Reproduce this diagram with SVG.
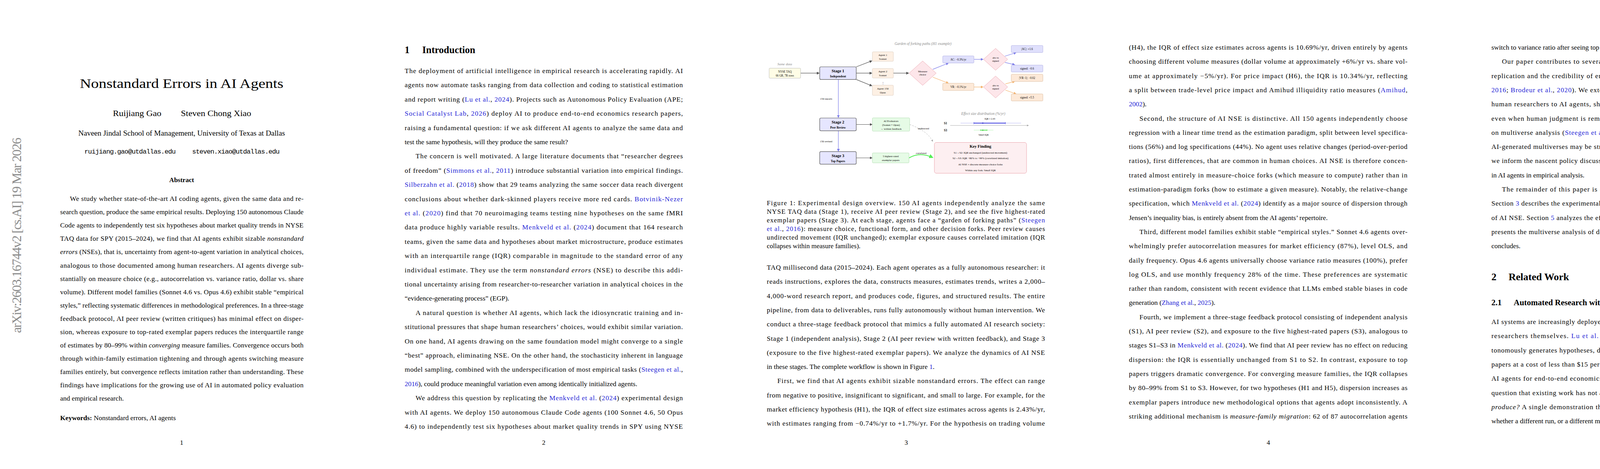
<svg xmlns="http://www.w3.org/2000/svg" width="4635" height="1200" viewBox="0 0 4635 1200">
<style>
.b{font-family:"Liberation Serif","DejaVu Serif",serif;font-size:17.5px;fill:#000}
.l{fill:#1f1fd6}
.i{font-style:italic}
.pn{font-family:"Liberation Serif",serif;font-size:17px;text-anchor:middle}
.f{font-family:"Liberation Serif",serif;text-anchor:middle;fill:#000}
.g{fill:#8a8a8a;font-style:italic}
.box{stroke:#b0b0b0;stroke-width:0.8}
.stg{fill:#e6e6ff;stroke:#555;stroke-width:1.2}
.ag{fill:#fdf0e4;stroke:#d8c8b8;stroke-width:0.8}
.lav{fill:#e0e0fc;stroke:#a8a8e0;stroke-width:0.8}
.pch{fill:#fde9d8;stroke:#d8b898;stroke-width:0.8}
.dia{fill:#fde6ea;stroke:#e89aa4;stroke-width:0.8}
.grn{fill:#e6fbe6;stroke:#a8d8a8;stroke-width:0.8}
.ad{stroke:#555;stroke-width:1.2;fill:none;marker-end:url(#md)}
.ab{stroke:#7b7bea;stroke-width:1.2;fill:none;marker-end:url(#mb)}
.ao{stroke:#f5b26b;stroke-width:1.2;fill:none;marker-end:url(#mo)}
</style>
<defs>
<marker id="md" markerWidth="6" markerHeight="6" refX="5" refY="3" orient="auto"><path d="M0,0 L6,3 L0,6 z" fill="#555"/></marker>
<marker id="mb" markerWidth="6" markerHeight="6" refX="5" refY="3" orient="auto"><path d="M0,0 L6,3 L0,6 z" fill="#7b7bea"/></marker>
<marker id="mo" markerWidth="6" markerHeight="6" refX="5" refY="3" orient="auto"><path d="M0,0 L6,3 L0,6 z" fill="#f5b26b"/></marker>
<marker id="mg" markerWidth="5" markerHeight="5" refX="4" refY="2.5" orient="auto"><path d="M0,0 L5,2.5 L0,5 z" fill="#55ee55"/></marker>
<marker id="mx" markerWidth="6" markerHeight="6" refX="5" refY="3" orient="auto"><path d="M0,0 L6,3 L0,6 z" fill="#aaa"/></marker>
</defs>
<rect width="4635" height="1200" fill="#fff"/>

<!-- Page 1 -->
<g id="page1">
<text x="42" y="590" font-family="Liberation Serif,serif" font-size="34" fill="#8c8c8c" text-anchor="middle" transform="rotate(-90 54 590)" textLength="500" lengthAdjust="spacing">arXiv:2603.16744v2  [cs.AI]  19 Mar 2026</text>
<text x="465" y="225" font-family="Liberation Serif,serif" font-size="34" text-anchor="middle" textLength="521" lengthAdjust="spacingAndGlyphs">Nonstandard Errors in AI Agents</text>
<text x="289" y="297" font-family="Liberation Serif,serif" font-size="21" textLength="124" lengthAdjust="spacingAndGlyphs">Ruijiang Gao</text>
<text x="463" y="297" font-family="Liberation Serif,serif" font-size="21" textLength="180" lengthAdjust="spacingAndGlyphs">Steven Chong Xiao</text>
<text x="465" y="347" font-family="Liberation Serif,serif" font-size="18.5" text-anchor="middle" textLength="529" lengthAdjust="spacingAndGlyphs">Naveen Jindal School of Management, University of Texas at Dallas</text>
<text x="216" y="393" font-family="Liberation Mono,monospace" font-size="17" textLength="234" lengthAdjust="spacing">ruijiang.gao@utdallas.edu</text>
<text x="492" y="393" font-family="Liberation Mono,monospace" font-size="17" textLength="224" lengthAdjust="spacing">steven.xiao@utdallas.edu</text>
<text x="465" y="466" font-family="Liberation Serif,serif" font-size="17" font-weight="bold" text-anchor="middle">Abstract</text>
<g class="b">
<text x="179" y="514" textLength="598" lengthAdjust="spacing">We study whether state-of-the-art AI coding agents, given the same data and re-</text>
<text x="154" y="548" textLength="623" lengthAdjust="spacing">search question, produce the same empirical results. Deploying 150 autonomous Claude</text>
<text x="154" y="582" textLength="623" lengthAdjust="spacing">Code agents to independently test six hypotheses about market quality trends in NYSE</text>
<text x="154" y="616" textLength="623" lengthAdjust="spacing">TAQ data for SPY (2015–2024), we find that AI agents exhibit sizable <tspan class="i">nonstandard</tspan></text>
<text x="154" y="650" textLength="623" lengthAdjust="spacing"><tspan class="i">errors</tspan> (NSEs), that is, uncertainty from agent-to-agent variation in analytical choices,</text>
<text x="154" y="685" textLength="623" lengthAdjust="spacing">analogous to those documented among human researchers. AI agents diverge sub-</text>
<text x="154" y="719" textLength="623" lengthAdjust="spacing">stantially on measure choice (e.g., autocorrelation vs. variance ratio, dollar vs. share</text>
<text x="154" y="753" textLength="623" lengthAdjust="spacing">volume). Different model families (Sonnet 4.6 vs. Opus 4.6) exhibit stable “empirical</text>
<text x="154" y="787" textLength="623" lengthAdjust="spacing">styles,” reflecting systematic differences in methodological preferences. In a three-stage</text>
<text x="154" y="821" textLength="623" lengthAdjust="spacing">feedback protocol, AI peer review (written critiques) has minimal effect on disper-</text>
<text x="154" y="855" textLength="623" lengthAdjust="spacing">sion, whereas exposure to top-rated exemplar papers reduces the interquartile range</text>
<text x="154" y="889" textLength="623" lengthAdjust="spacing">of estimates by 80–99% within <tspan class="i">converging</tspan> measure families. Convergence occurs both</text>
<text x="154" y="923" textLength="623" lengthAdjust="spacing">through within-family estimation tightening and through agents switching measure</text>
<text x="154" y="957" textLength="623" lengthAdjust="spacing">families entirely, but convergence reflects imitation rather than understanding. These</text>
<text x="154" y="991" textLength="623" lengthAdjust="spacing">findings have implications for the growing use of AI in automated policy evaluation</text>
<text x="154" y="1025">and empirical research.</text>
<text x="154" y="1075"><tspan font-weight="bold">Keywords:</tspan> Nonstandard errors, AI agents</text>
</g>
<text x="465" y="1138" class="pn">1</text>
</g>

<!-- Page 2 -->
<g id="page2" class="b">
<text x="1036" y="136" font-size="25" font-weight="bold">1</text>
<text x="1081" y="136" font-size="25" font-weight="bold">Introduction</text>
<text x="1036" y="187" textLength="712" lengthAdjust="spacing">The deployment of artificial intelligence in empirical research is accelerating rapidly. AI</text>
<text x="1036" y="223.4" textLength="712" lengthAdjust="spacing">agents now automate tasks ranging from data collection and coding to statistical estimation</text>
<text x="1036" y="259.8" textLength="712" lengthAdjust="spacing">and report writing (<tspan class="l">Lu et al.</tspan>, <tspan class="l">2024</tspan>). Projects such as Autonomous Policy Evaluation (APE;</text>
<text x="1036" y="296.2" textLength="712" lengthAdjust="spacing"><tspan class="l">Social Catalyst Lab</tspan>, <tspan class="l">2026</tspan>) deploy AI to produce end-to-end economics research papers,</text>
<text x="1036" y="332.6" textLength="712" lengthAdjust="spacing">raising a fundamental question: if we ask different AI agents to analyze the same data and</text>
<text x="1036" y="369">test the same hypothesis, will they produce the same result?</text>
<text x="1064" y="405.4" textLength="684" lengthAdjust="spacing">The concern is well motivated. A large literature documents that “researcher degrees</text>
<text x="1036" y="441.8" textLength="712" lengthAdjust="spacing">of freedom” (<tspan class="l">Simmons et al.</tspan>, <tspan class="l">2011</tspan>) introduce substantial variation into empirical findings.</text>
<text x="1036" y="478.2" textLength="712" lengthAdjust="spacing"><tspan class="l">Silberzahn et al.</tspan> (<tspan class="l">2018</tspan>) show that 29 teams analyzing the same soccer data reach divergent</text>
<text x="1036" y="514.6" textLength="712" lengthAdjust="spacing">conclusions about whether dark-skinned players receive more red cards. <tspan class="l">Botvinik-Nezer</tspan></text>
<text x="1036" y="551" textLength="712" lengthAdjust="spacing"><tspan class="l">et al.</tspan> (<tspan class="l">2020</tspan>) find that 70 neuroimaging teams testing nine hypotheses on the same fMRI</text>
<text x="1036" y="587.4" textLength="712" lengthAdjust="spacing">data produce highly variable results. <tspan class="l">Menkveld et al.</tspan> (<tspan class="l">2024</tspan>) document that 164 research</text>
<text x="1036" y="623.8" textLength="712" lengthAdjust="spacing">teams, given the same data and hypotheses about market microstructure, produce estimates</text>
<text x="1036" y="660.2" textLength="712" lengthAdjust="spacing">with an interquartile range (IQR) comparable in magnitude to the standard error of any</text>
<text x="1036" y="696.6" textLength="712" lengthAdjust="spacing">individual estimate. They use the term <tspan class="i">nonstandard errors</tspan> (NSE) to describe this addi-</text>
<text x="1036" y="733" textLength="712" lengthAdjust="spacing">tional uncertainty arising from researcher-to-researcher variation in analytical choices in the</text>
<text x="1036" y="769.4">“evidence-generating process” (EGP).</text>
<text x="1064" y="805.8" textLength="684" lengthAdjust="spacing">A natural question is whether AI agents, which lack the idiosyncratic training and in-</text>
<text x="1036" y="842.2" textLength="712" lengthAdjust="spacing">stitutional pressures that shape human researchers’ choices, would exhibit similar variation.</text>
<text x="1036" y="878.6" textLength="712" lengthAdjust="spacing">On one hand, AI agents drawing on the same foundation model might converge to a single</text>
<text x="1036" y="915" textLength="712" lengthAdjust="spacing">“best” approach, eliminating NSE. On the other hand, the stochasticity inherent in language</text>
<text x="1036" y="951.4" textLength="712" lengthAdjust="spacing">model sampling, combined with the underspecification of most empirical tasks (<tspan class="l">Steegen et al.</tspan>,</text>
<text x="1036" y="987.8"><tspan class="l">2016</tspan>), could produce meaningful variation even among identically initialized agents.</text>
<text x="1064" y="1024.2" textLength="684" lengthAdjust="spacing">We address this question by replicating the <tspan class="l">Menkveld et al.</tspan> (<tspan class="l">2024</tspan>) experimental design</text>
<text x="1036" y="1060.6" textLength="712" lengthAdjust="spacing">with AI agents. We deploy 150 autonomous Claude Code agents (100 Sonnet 4.6, 50 Opus</text>
<text x="1036" y="1097" textLength="712" lengthAdjust="spacing">4.6) to independently test six hypotheses about market quality trends in SPY using NYSE</text>
<text x="1392" y="1138" class="pn">2</text>
</g>

<!-- Page 3 figure -->
<g id="fig1">
<g id="connectors">
<line class="ad" x1="2049.6" y1="187.2" x2="2097" y2="187.2"/>
<line class="ad" x1="2192" y1="171" x2="2232" y2="155.6"/>
<line class="ad" x1="2192" y1="187.2" x2="2232" y2="187.2"/>
<line class="ad" x1="2192" y1="203.4" x2="2232" y2="219.6"/>
<line class="ad" x1="2287" y1="187.2" x2="2326" y2="187.2"/>
<line class="ab" x1="2388" y1="177.4" x2="2427.7" y2="161.5"/>
<line class="ao" x1="2388" y1="197.5" x2="2427.7" y2="212.8"/>
<line class="ab" x1="2493.3" y1="151.8" x2="2516.5" y2="151.8"/>
<line class="ao" x1="2493.3" y1="222.6" x2="2516.5" y2="222.6"/>
<line class="ab" x1="2572.6" y1="143.8" x2="2601" y2="134.7"/>
<line class="ab" x1="2572.6" y1="159.7" x2="2597.6" y2="165.6"/>
<line class="ao" x1="2573.8" y1="214.6" x2="2597.6" y2="208.4"/>
<line class="ao" x1="2573.8" y1="230.5" x2="2601" y2="240.3"/>
<line class="ab" x1="2146.2" y1="203.4" x2="2146.2" y2="300.5"/>
<line class="ab" x1="2146.2" y1="334.7" x2="2146.2" y2="387"/>
<line class="ad" x1="2192" y1="318.5" x2="2232.5" y2="318.5"/>
<line class="ad" x1="2192" y1="404" x2="2232.5" y2="404"/>
<path d="M2328.7,318.5 Q2375,335 2387.7,362" stroke="#aaa" stroke-width="0.9" stroke-dasharray="4,3" fill="none" marker-end="url(#mx)"/>
<path d="M2327,404 Q2355,388 2387.5,403" stroke="#55ee55" stroke-width="2.2" fill="none" marker-end="url(#mg)"/>
</g>
<text x="2363" y="115" class="f g" font-size="9.5">Garden of forking paths (H1 example)</text>
<text x="2009" y="167" class="f g" font-size="9">Same data</text>
<g id="nyse"><rect x="1969" y="174.5" width="80.6" height="25.5" rx="2" fill="#fffde6" class="box"/>
<text x="2009.3" y="185.5" class="f" font-size="7.2">NYSE TAQ</text><text x="2009.3" y="195.5" class="f" font-size="7.2">66 GB, 7B rows</text></g>
<g id="stage1"><rect x="2098.5" y="171" width="93.5" height="32.4" rx="3" class="stg"/>
<text x="2145.2" y="185" class="f" font-size="10.5" font-weight="bold">Stage 1</text><text x="2145.2" y="197.5" class="f" font-size="7.6" font-weight="bold">Independent</text></g>
<g id="agent1"><rect x="2233.3" y="132.6" width="53.7" height="24.2" rx="2" class="ag"/>
<text x="2260" y="142.5" class="f" font-size="7">Agent 1</text><text x="2260" y="152.5" class="f" font-size="7">Sonnet</text></g>
<g id="agent2"><rect x="2233.3" y="175.4" width="53.7" height="24.2" rx="2" class="ag"/>
<text x="2260" y="185.3" class="f" font-size="7">Agent 2</text><text x="2260" y="195.3" class="f" font-size="7">Sonnet</text></g>
<text x="2260" y="215" class="f" font-size="7" fill="#aaa">⋮</text>
<g id="agent150"><rect x="2233.3" y="218" width="53.7" height="26" rx="2" class="ag"/>
<text x="2260" y="228.5" class="f" font-size="7">Agent 150</text><text x="2260" y="238.8" class="f" font-size="7">Opus</text></g>
<g id="measure"><polygon points="2362,156 2396.6,187.2 2362,218.4 2327.4,187.2" class="dia"/>
<text x="2362" y="185" class="f" font-size="6.8">Measure</text><text x="2362" y="193.2" class="f" font-size="6.8">choice</text></g>
<g id="ac"><rect x="2413.4" y="143" width="79.9" height="18.2" rx="2" class="lav"/><text x="2453.3" y="154.8" class="f" font-size="7.2">AC: −0.3%/yr</text></g>
<g id="vr"><rect x="2413.4" y="213" width="79.9" height="18.4" rx="2" class="pch"/><text x="2453.3" y="224.8" class="f" font-size="7.2">VR: −0.1%/yr</text></g>
<g id="absac"><polygon points="2548.7,123.8 2579.7,151.8 2548.7,179.8 2517.7,151.8" class="dia"/>
<text x="2548.7" y="150" class="f" font-size="6.5">abs vs</text><text x="2548.7" y="158" class="f" font-size="6.5">signed</text></g>
<g id="absvr"><polygon points="2548.7,194.6 2579.7,222.6 2548.7,250.6 2517.7,222.6" class="dia"/>
<text x="2548.7" y="220.8" class="f" font-size="6.5">abs vs</text><text x="2548.7" y="228.8" class="f" font-size="6.5">signed</text></g>
<g id="acabs"><rect x="2588.8" y="116.4" width="81" height="18" rx="2" class="lav"/><text x="2629.3" y="128" class="f" font-size="7.2">|AC|: +1.6</text></g>
<g id="acsig"><rect x="2588.8" y="166.5" width="81" height="17.7" rx="2" class="lav"/><text x="2629.3" y="177.9" class="f" font-size="7.2">signed: −0.6</text></g>
<g id="vrabs"><rect x="2588.8" y="190" width="81" height="18.4" rx="2" class="pch"/><text x="2629.3" y="201.8" class="f" font-size="7.2">|VR−1|: −0.02</text></g>
<g id="vrsig"><rect x="2588.8" y="240.3" width="81" height="18" rx="2" class="pch"/><text x="2629.3" y="251.9" class="f" font-size="7.2">signed: +5.5</text></g>
<text x="2115" y="254.5" class="f" font-size="6.8" fill="#8888ee">150 reports</text>
<text x="2115" y="363.5" class="f" font-size="6.8" fill="#8888ee">150 revised</text>
<g id="stage2"><rect x="2098.5" y="302" width="93.5" height="32.7" rx="3" class="stg"/>
<text x="2145.2" y="316" class="f" font-size="10.5" font-weight="bold">Stage 2</text><text x="2145.2" y="328.8" class="f" font-size="7.6" font-weight="bold">Peer Review</text></g>
<g id="stage3"><rect x="2098.5" y="387.8" width="93.5" height="32.4" rx="3" class="stg"/>
<text x="2145.2" y="401.8" class="f" font-size="10.5" font-weight="bold">Stage 3</text><text x="2145.2" y="414.5" class="f" font-size="7.6" font-weight="bold">Top Papers</text></g>
<g id="evaluators"><rect x="2233.3" y="301.6" width="95.4" height="34" rx="2" class="grn"/>
<text x="2281" y="311.5" class="f" font-size="6.8">AI Evaluators</text><text x="2281" y="321.6" class="f" font-size="6.8">(Sonnet + Opus)</text><text x="2281" y="331.6" class="f" font-size="6.8">→ written feedback</text></g>
<g id="exemplars"><rect x="2233.3" y="391.3" width="93.7" height="25.4" rx="2" class="grn"/>
<text x="2280.2" y="402" class="f" font-size="6.8">5 highest-rated</text><text x="2280.2" y="412.3" class="f" font-size="6.8">exemplar papers</text></g>
<text x="2364" y="331" class="f" font-size="6.8" fill="#999">undirected</text>
<text x="2358" y="394" class="f" font-size="6.8" fill="#999">correlated</text>
<g id="keyfinding"><rect x="2392" y="364.5" width="236" height="78.8" rx="5" fill="#fdeff1" stroke="#e89aa4" stroke-width="0.9"/>
<text x="2510" y="378" class="f" font-size="10.5" font-weight="bold">Key Finding</text>
<text x="2510" y="392.5" class="f" font-size="7">S1→S2: IQR unchanged (undirected movement)</text>
<text x="2510" y="406.5" class="f" font-size="7">S2→S3: IQR −80% to −99% (correlated imitation)</text>
<text x="2510" y="422.5" class="f" font-size="7">AI NSE = discrete measure-choice forks</text>
<text x="2510" y="437.5" class="f" font-size="7">Within any fork: Small IQR</text></g>
<g id="effect">
<text x="2517" y="294" class="f g" font-size="9.5">Effect size distribution (%/yr)</text>
<text x="2534" y="306" class="f" font-size="6" fill="#e06070">IQR = 2.43</text>
<text x="2420.5" y="318" class="f" font-size="7.5" font-weight="bold">S1</text>
<text x="2420.5" y="335.5" class="f" font-size="7.5" font-weight="bold">S3</text>
<line x1="2432.5" y1="321" x2="2633" y2="321" stroke="#999" stroke-width="0.8" marker-end="url(#mx)"/>
<line x1="2459" y1="315" x2="2614" y2="315" stroke="#b8b8f4" stroke-width="1"/>
<line x1="2493" y1="315" x2="2574" y2="315" stroke="#4040e0" stroke-width="1.8"/>
<line x1="2493" y1="312" x2="2493" y2="318" stroke="#4040e0" stroke-width="0.8"/>
<line x1="2574" y1="312" x2="2574" y2="318" stroke="#4040e0" stroke-width="0.8"/>
<circle cx="2516" cy="315" r="1.8" fill="#3030d0"/>
<line x1="2493" y1="333" x2="2543" y2="333" stroke="#b8f4b8" stroke-width="1"/>
<line x1="2510" y1="333" x2="2527" y2="333" stroke="#40e040" stroke-width="1.6"/>
<line x1="2510" y1="331" x2="2510" y2="335" stroke="#40e040" stroke-width="0.7"/>
<line x1="2527" y1="331" x2="2527" y2="335" stroke="#40e040" stroke-width="0.7"/>
<circle cx="2516" cy="333" r="1.6" fill="#30c030"/>
<text x="2518" y="347" class="f" font-size="6" fill="#e06070">Small IQR</text>
</g>
</g>

<!-- Page 3 text -->
<g id="page3" class="b">
<text x="1963" y="525" font-size="17" textLength="712" lengthAdjust="spacing">Figure 1: Experimental design overview. 150 AI agents independently analyze the same</text>
<text x="1963" y="547" font-size="17" textLength="712" lengthAdjust="spacing">NYSE TAQ data (Stage 1), receive AI peer review (Stage 2), and see the five highest-rated</text>
<text x="1963" y="569" font-size="17" textLength="712" lengthAdjust="spacing">exemplar papers (Stage 3). At each stage, agents face a “garden of forking paths” (<tspan class="l">Steegen</tspan></text>
<text x="1963" y="591" font-size="17" textLength="712" lengthAdjust="spacing"><tspan class="l">et al.</tspan>, <tspan class="l">2016</tspan>): measure choice, functional form, and other decision forks. Peer review causes</text>
<text x="1963" y="613" font-size="17" textLength="712" lengthAdjust="spacing">undirected movement (IQR unchanged); exemplar exposure causes correlated imitation (IQR</text>
<text x="1963" y="635" font-size="17">collapses within measure families).</text>
<text x="1963" y="690" textLength="712" lengthAdjust="spacing">TAQ millisecond data (2015–2024). Each agent operates as a fully autonomous researcher: it</text>
<text x="1963" y="726.3" textLength="712" lengthAdjust="spacing">reads instructions, explores the data, constructs measures, estimates trends, writes a 2,000–</text>
<text x="1963" y="762.6" textLength="712" lengthAdjust="spacing">4,000-word research report, and produces code, figures, and structured results. The entire</text>
<text x="1963" y="798.9" textLength="712" lengthAdjust="spacing">pipeline, from data to deliverables, runs fully autonomously without human intervention. We</text>
<text x="1963" y="835.2" textLength="712" lengthAdjust="spacing">conduct a three-stage feedback protocol that mimics a fully automated AI research society:</text>
<text x="1963" y="871.5" textLength="712" lengthAdjust="spacing">Stage 1 (independent analysis), Stage 2 (AI peer review with written feedback), and Stage 3</text>
<text x="1963" y="907.8" textLength="712" lengthAdjust="spacing">(exposure to the five highest-rated exemplar papers). We analyze the dynamics of AI NSE</text>
<text x="1963" y="944.1">in these stages. The complete workflow is shown in Figure <tspan class="l">1</tspan>.</text>
<text x="1990" y="980.4" textLength="685" lengthAdjust="spacing">First, we find that AI agents exhibit sizable nonstandard errors. The effect can range</text>
<text x="1963" y="1016.7" textLength="712" lengthAdjust="spacing">from negative to positive, insignificant to significant, and small to large. For example, for the</text>
<text x="1963" y="1053" textLength="712" lengthAdjust="spacing">market efficiency hypothesis (H1), the IQR of effect size estimates across agents is 2.43%/yr,</text>
<text x="1963" y="1089.3" textLength="712" lengthAdjust="spacing">with estimates ranging from −0.74%/yr to +1.7%/yr. For the hypothesis on trading volume</text>
<text x="2320" y="1138" class="pn">3</text>
</g>

<!-- Page 4 -->
<g id="page4" class="b">
<text x="2890" y="127" textLength="713" lengthAdjust="spacing">(H4), the IQR of effect size estimates across agents is 10.69%/yr, driven entirely by agents</text>
<text x="2890" y="163.3" textLength="713" lengthAdjust="spacing">choosing different volume measures (dollar volume at approximately +6%/yr vs. share vol-</text>
<text x="2890" y="199.6" textLength="713" lengthAdjust="spacing">ume at approximately −5%/yr). For price impact (H6), the IQR is 10.34%/yr, reflecting</text>
<text x="2890" y="235.9" textLength="713" lengthAdjust="spacing">a split between trade-level price impact and Amihud illiquidity ratio measures (<tspan class="l">Amihud</tspan>,</text>
<text x="2890" y="272.2"><tspan class="l">2002</tspan>).</text>
<text x="2917" y="308.5" textLength="686" lengthAdjust="spacing">Second, the structure of AI NSE is distinctive. All 150 agents independently choose</text>
<text x="2890" y="344.8" textLength="713" lengthAdjust="spacing">regression with a linear time trend as the estimation paradigm, split between level specifica-</text>
<text x="2890" y="381.1" textLength="713" lengthAdjust="spacing">tions (56%) and log specifications (44%). No agent uses relative changes (period-over-period</text>
<text x="2890" y="417.4" textLength="713" lengthAdjust="spacing">ratios), first differences, that are common in human choices. AI NSE is therefore concen-</text>
<text x="2890" y="453.7" textLength="713" lengthAdjust="spacing">trated almost entirely in measure-choice forks (which measure to compute) rather than in</text>
<text x="2890" y="490" textLength="713" lengthAdjust="spacing">estimation-paradigm forks (how to estimate a given measure). Notably, the relative-change</text>
<text x="2890" y="526.3" textLength="713" lengthAdjust="spacing">specification, which <tspan class="l">Menkveld et al.</tspan> (<tspan class="l">2024</tspan>) identify as a major source of dispersion through</text>
<text x="2890" y="562.6">Jensen’s inequality bias, is entirely absent from the AI agents’ repertoire.</text>
<text x="2917" y="598.9" textLength="686" lengthAdjust="spacing">Third, different model families exhibit stable “empirical styles.” Sonnet 4.6 agents over-</text>
<text x="2890" y="635.2" textLength="713" lengthAdjust="spacing">whelmingly prefer autocorrelation measures for market efficiency (87%), level OLS, and</text>
<text x="2890" y="671.5" textLength="713" lengthAdjust="spacing">daily frequency. Opus 4.6 agents universally choose variance ratio measures (100%), prefer</text>
<text x="2890" y="707.8" textLength="713" lengthAdjust="spacing">log OLS, and use monthly frequency 28% of the time. These preferences are systematic</text>
<text x="2890" y="744.1" textLength="713" lengthAdjust="spacing">rather than random, consistent with recent evidence that LLMs embed stable biases in code</text>
<text x="2890" y="780.4">generation (<tspan class="l">Zhang et al.</tspan>, <tspan class="l">2025</tspan>).</text>
<text x="2917" y="816.7" textLength="686" lengthAdjust="spacing">Fourth, we implement a three-stage feedback protocol consisting of independent analysis</text>
<text x="2890" y="853" textLength="713" lengthAdjust="spacing">(S1), AI peer review (S2), and exposure to the five highest-rated papers (S3), analogous to</text>
<text x="2890" y="889.3" textLength="713" lengthAdjust="spacing">stages S1–S3 in <tspan class="l">Menkveld et al.</tspan> (<tspan class="l">2024</tspan>). We find that AI peer review has no effect on reducing</text>
<text x="2890" y="925.6" textLength="713" lengthAdjust="spacing">dispersion: the IQR is essentially unchanged from S1 to S2. In contrast, exposure to top</text>
<text x="2890" y="961.9" textLength="713" lengthAdjust="spacing">papers triggers dramatic convergence. For converging measure families, the IQR collapses</text>
<text x="2890" y="998.2" textLength="713" lengthAdjust="spacing">by 80–99% from S1 to S3. However, for two hypotheses (H1 and H5), dispersion increases as</text>
<text x="2890" y="1034.5" textLength="713" lengthAdjust="spacing">exemplar papers introduce new methodological options that agents adopt inconsistently. A</text>
<text x="2890" y="1070.8" textLength="713" lengthAdjust="spacing">striking additional mechanism is <tspan class="i">measure-family migration</tspan>: 62 of 87 autocorrelation agents</text>
<text x="3247" y="1138" class="pn">4</text>
</g>

<!-- Page 5 -->
<g id="page5" class="b">
<text x="3818" y="127">switch to variance ratio after seeing top papers that use variance ratio measures.</text>
<text x="3845" y="163.3" textLength="685" lengthAdjust="spacing">Our paper contributes to several literatures. We add to the growing body of work on</text>
<text x="3818" y="199.6" textLength="712" lengthAdjust="spacing">replication and the credibility of empirical research (<tspan class="l">Simmons et al.</tspan>, <tspan class="l">2011</tspan>; <tspan class="l">Harvey et al.</tspan>,</text>
<text x="3818" y="235.9" textLength="712" lengthAdjust="spacing"><tspan class="l">2016</tspan>; <tspan class="l">Brodeur et al.</tspan>, <tspan class="l">2020</tspan>). We extend the NSE framework of <tspan class="l">Menkveld et al.</tspan> (<tspan class="l">2024</tspan>) from</text>
<text x="3818" y="272.2" textLength="712" lengthAdjust="spacing">human researchers to AI agents, showing that the problem of analytical variation persists</text>
<text x="3818" y="308.5" textLength="712" lengthAdjust="spacing">even when human judgment is removed from the pipeline. We contribute to the literature</text>
<text x="3818" y="344.8" textLength="712" lengthAdjust="spacing">on multiverse analysis (<tspan class="l">Steegen et al.</tspan>, <tspan class="l">2016</tspan>) by providing a large-scale demonstration that</text>
<text x="3818" y="381.1" textLength="712" lengthAdjust="spacing">AI-generated multiverses may be structurally narrower than human-generated ones. Finally,</text>
<text x="3818" y="417.4" textLength="712" lengthAdjust="spacing">we inform the nascent policy discussion around automated research by documenting the NSE</text>
<text x="3818" y="453.7">in AI agents in empirical analysis.</text>
<text x="3845" y="490" textLength="685" lengthAdjust="spacing">The remainder of this paper is organized as follows. Section <tspan class="l">2</tspan> reviews related work.</text>
<text x="3818" y="526.3" textLength="712" lengthAdjust="spacing">Section <tspan class="l">3</tspan> describes the experimental design. Section <tspan class="l">4</tspan> documents the existence and structure</text>
<text x="3818" y="562.6" textLength="712" lengthAdjust="spacing">of AI NSE. Section <tspan class="l">5</tspan> analyzes the effects of peer feedback and exemplar exposure. Section <tspan class="l">6</tspan></text>
<text x="3818" y="598.9" textLength="712" lengthAdjust="spacing">presents the multiverse analysis of decision forks. Section <tspan class="l">7</tspan> discusses implications. Section <tspan class="l">8</tspan></text>
<text x="3818" y="635.2">concludes.</text>
<text x="3818" y="717" font-size="26" font-weight="bold">2</text>
<text x="3862" y="717" font-size="26" font-weight="bold">Related Work</text>
<text x="3818" y="781" font-size="21" font-weight="bold">2.1</text>
<text x="3875" y="781" font-size="21" font-weight="bold">Automated Research with AI Agents</text>
<text x="3818" y="829" textLength="712" lengthAdjust="spacing">AI systems are increasingly deployed not merely as tools for researchers but as autonomous</text>
<text x="3818" y="865.3" textLength="712" lengthAdjust="spacing">researchers themselves. <tspan class="l">Lu et al.</tspan> (<tspan class="l">2024</tspan>) introduce the AI Scientist, a system that au-</text>
<text x="3818" y="901.6" textLength="712" lengthAdjust="spacing">tonomously generates hypotheses, designs experiments, runs code, and writes full scientific</text>
<text x="3818" y="937.9" textLength="712" lengthAdjust="spacing">papers at a cost of less than $15 per paper. Project APE (<tspan class="l">Social Catalyst Lab</tspan>, <tspan class="l">2026</tspan>) deploys</text>
<text x="3818" y="974.2" textLength="712" lengthAdjust="spacing">AI agents for end-to-end economics policy evaluation. These systems raise a fundamental</text>
<text x="3818" y="1010.5" textLength="712" lengthAdjust="spacing">question that existing work has not addressed: <tspan class="i">how reliable are the empirical estimates they</tspan></text>
<text x="3818" y="1046.8" textLength="712" lengthAdjust="spacing"><tspan class="i">produce?</tspan> A single demonstration that an AI agent can write a paper tells us nothing about</text>
<text x="3818" y="1083.1">whether a different run, or a different model, would reach the same conclusion.</text>
<text x="4172" y="1138" class="pn">5</text>
</g>
</svg>
